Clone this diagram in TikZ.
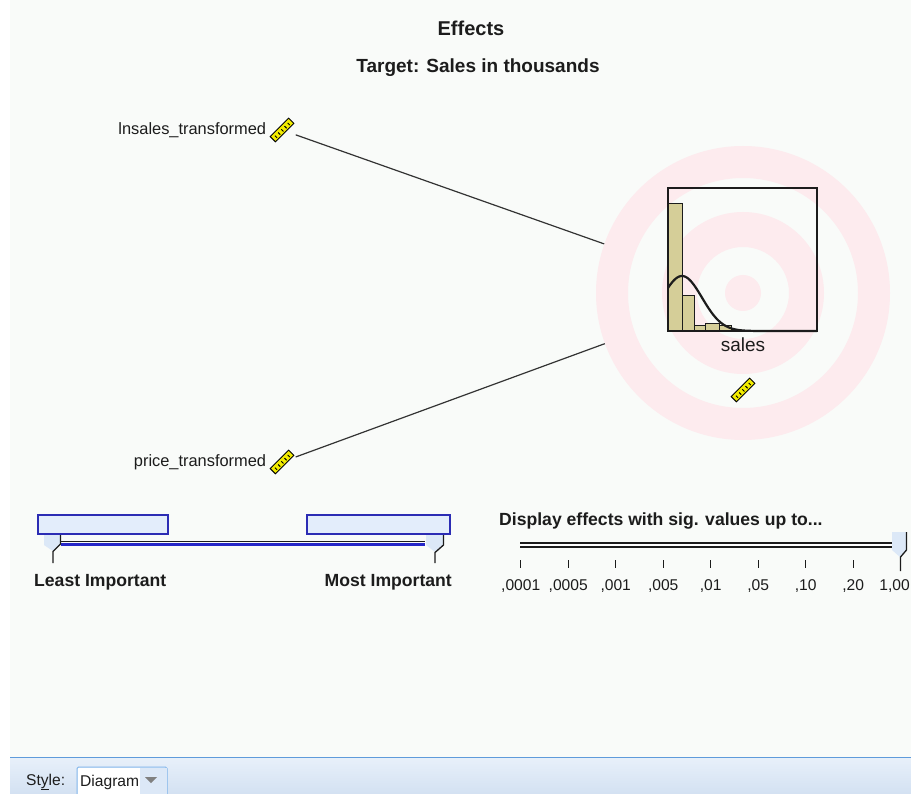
\documentclass[tikz,border=0pt]{standalone}
\usepackage{fontspec}
\setmainfont{Liberation Sans}
\usetikzlibrary{positioning}
\definecolor{Canvas}{HTML}{F9FBF9}
\definecolor{Ink}{HTML}{1C1C1C}
\definecolor{RingPink}{HTML}{FDEBEE}
\definecolor{BarKhaki}{HTML}{D5CE98}
\definecolor{RulerYellow}{HTML}{F2EC00}
\definecolor{PanelBlue}{HTML}{E3EDFB}
\definecolor{PanelEdge}{HTML}{2C2CB4}
\definecolor{TrackBlue}{HTML}{2626C8}
\definecolor{HandleBlue}{HTML}{DCE8F7}
\definecolor{StripTop}{HTML}{E8F0FA}
\definecolor{StripBottom}{HTML}{D3E1F2}
\definecolor{StripLine}{HTML}{5F9BDB}
\definecolor{ComboEdge}{HTML}{7DB3EA}

\tikzset{
  ruler/.pic={
    \begin{scope}[rotate=45]
      \filldraw[fill=RulerYellow, draw=black, line width=0.9pt] (-13pt,-3.7pt) rectangle (13pt,3.7pt);
      \foreach \t in {-9,-4.5,0,4.5,9}
        \draw[line width=1pt] ({\t*1pt},-2pt) -- ({\t*1pt},1pt);
    \end{scope}
  },
  iconspot/.style={minimum size=27pt, inner sep=0pt},
  varname/.style={font=\fontsize{16.4}{18}\selectfont, text=Ink, inner sep=0pt},
  boldname/.style={font=\bfseries\fontsize{17.6}{20}\selectfont, text=Ink, inner sep=0pt},
  ticklabel/.style={font=\fontsize{15.6}{17}\selectfont, text=Ink, inner sep=0pt},
  panel/.style={fill=PanelBlue, draw=PanelEdge, line width=1.1pt, minimum height=19pt, inner sep=0pt},
  effect/.style={draw=Ink!90, line width=1.2pt},
}

\begin{document}
\begin{tikzpicture}[x=1pt, y=-1pt]
  \clip (0,0) rectangle (911,794);
  \fill[white] (0,0) rectangle (911,794);
  \fill[Canvas] (10,0) rectangle (911,757);

  % titles
  \node[font=\bfseries\fontsize{20}{22}\selectfont, text=Ink] (title) at (471,28) {Effects};
  \node[font=\bfseries\fontsize{19}{21}\selectfont, text=Ink] (subtitle) at (478,68) {Target: Sales in thousands};

  % target rings
  \node[circle, minimum size=294pt, inner sep=0pt] (target) at (743,293) {};
  \fill[RingPink, even odd rule] (target.center) circle (147) circle (115)
    circle (81) circle (46) circle (18);

  % histogram of the target
  \foreach \l/\r/\t in {668/682/203, 682/694/295, 694/705/325, 705/719/323, 719/731/325}
    \filldraw[fill=BarKhaki, draw=Ink, line width=0.9pt] (\l,\t) rectangle (\r,331);
  \draw[Ink, line width=1.4pt] (668,188) rectangle (817,331);
  \draw[Ink, line width=2.2pt, domain=668:760, samples=60, smooth]
    plot (\x, {331-55*exp(-0.5*((\x-682)/20)^2)}) -- (817,331);
  \node[font=\fontsize{19}{21}\selectfont, text=Ink] (targetname) at (743,345) {sales};
  \pic at (743,390) {ruler};

  % predictors
  \node[iconspot] (lnsalesicon) at (282,130) {};
  \pic at (lnsalesicon) {ruler};
  \node[varname, left=2pt of lnsalesicon] (lnsales) {lnsales\_transformed};
  \node[iconspot] (priceicon) at (282,462) {};
  \pic at (priceicon) {ruler};
  \node[varname, left=2pt of priceicon] (price) {price\_transformed};

  \draw[effect] (lnsalesicon) -- (target);
  \draw[effect] (priceicon) -- (target);

  % importance slider
  \node[panel, minimum width=130pt] (leastbox) at (103,524.5) {};
  \node[panel, minimum width=143pt] (mostbox) at (378.5,524.5) {};
  \draw[Ink, line width=1.4pt] (61,541.5) -- (425,541.5);
  \draw[TrackBlue, line width=3pt] (61,544.5) -- (425,544.5);
  \fill[HandleBlue] (44,535) -- (60,535) -- (60,545) -- (53,551) -- (44,545) -- cycle;
  \draw[Ink, line width=1.3pt] (60.5,535) -- (60.5,544) -- (53,551.5) -- (53,563);
  \fill[HandleBlue] (426,535) -- (443,535) -- (443,545) -- (435,552) -- (426,545) -- cycle;
  \draw[Ink, line width=1.3pt] (443.5,535) -- (443.5,545) -- (435,552.5) -- (435,563);
  \node[boldname, anchor=west] (least) at (34,582) {Least Important};
  \node[boldname, anchor=east] (most) at (452,582) {Most Important};

  % significance slider
  \node[boldname, anchor=west] (sigtitle) at (499,521) {Display effects with sig. values up to...};
  \draw[Ink, line width=1.6pt, double=white, double distance=2pt] (520,545) -- (893,545);
  \foreach \lab [count=\i from 0] in {{,0001},{,0005},{,001},{,005},{,01},{,05},{,10},{,20}} {
    \draw[Ink, line width=1pt] (520.7+47.5*\i,560) -- (520.7+47.5*\i,568);
    \node[ticklabel] at (520.7+47.5*\i,586) {\lab};
  }
  \fill[HandleBlue] (892,532) -- (906,532) -- (906,550) -- (900,557) -- (892,550) -- cycle;
  \draw[Ink, line width=1.3pt] (906.5,532) -- (906.5,550) -- (900.5,557) -- (900.5,571);
  \node[ticklabel, anchor=east] at (910,586) {1,00};

  % style strip
  \shade[top color=StripTop, bottom color=StripBottom] (10,757) rectangle (911,794);
  \draw[StripLine, line width=1.2pt] (10,757.5) -- (911,757.5);
  \node[ticklabel, anchor=west] (stylelabel) at (26,782) {St\underline{y}le:};
  \filldraw[fill=white, draw=ComboEdge, line width=1pt, rounded corners=1.5pt] (77,767) rectangle (167,800);
  \fill[HandleBlue] (140,768) rectangle (166.5,800);
  \fill[gray] (145,777) -- (157,777) -- (151,783) -- cycle;
  \node[ticklabel, anchor=west] (stylevalue) at (80,782) {Diagram};
\end{tikzpicture}
\end{document}
